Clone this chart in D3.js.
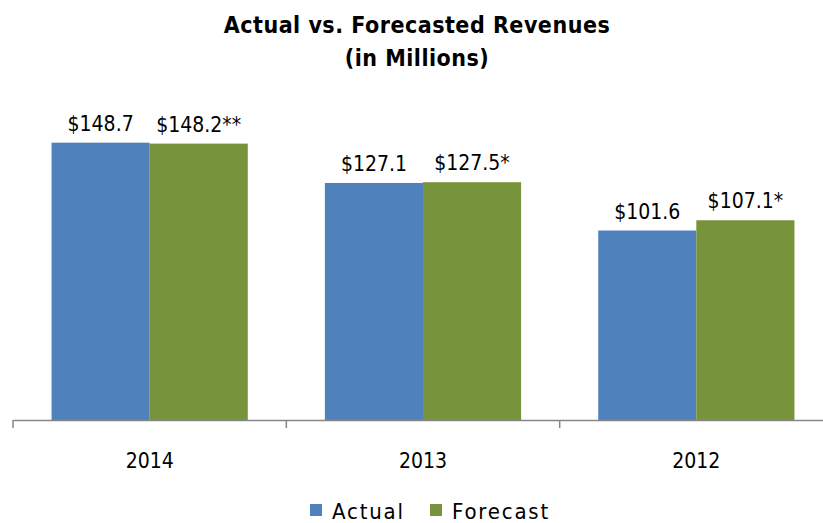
<!DOCTYPE html>
<html>
<head>
<meta charset="utf-8">
<script src="https://cdn.jsdelivr.net/npm/d3@7"></script>
<style>
    body { margin: 0; background: #fff; }
    svg text { font-family: "Liberation Sans Narrow", "DejaVu Sans Condensed", sans-serif; fill: #000; }
</style>
</head>
<body>
<div id="chart"></div>
<script>
const years = ["2014", "2013", "2012"];
const seriesNames = ["Actual", "Forecast"];
const actual = [148.7, 127.1, 101.6];
const forecast = [148.2, 127.5, 107.1];
const actualLabels = ["$148.7", "$127.1", "$101.6"];
const forecastLabels = ["$148.2**", "$127.5*", "$107.1*"];
const colors = ["#4F81BD", "#77933C"];

const width = 823, height = 523;
const baseY = 420;

const svg = d3.select("#chart")
    .append("svg")
    .attr("width", width)
    .attr("height", height);

// Scales
const x0 = d3.scaleBand().domain(years).range([13, 833]).padding(0);
const x1 = d3.scaleBand().domain(seriesNames).range([0, x0.bandwidth()]).paddingInner(0).paddingOuter(0.393);
const y = d3.scaleLinear().domain([0, 160]).range([baseY, 121.6]);

// Title
const title = svg.append("text")
    .attr("x", 417)
    .attr("text-anchor", "middle")
    .style("font-weight", "bold")
    .style("font-size", "23px")
    .style("letter-spacing", "0.5px");
title.append("tspan").attr("x", 417).attr("y", 33).text("Actual vs. Forecasted Revenues");
title.append("tspan").attr("x", 417).attr("y", 66).text("(in Millions)");

// Bars
const series = [actual, forecast];
const labelSets = [actualLabels, forecastLabels];
seriesNames.forEach((s, i) => {
    const g = svg.append("g").attr("class", "series-" + s);
    g.selectAll("rect")
        .data(years)
        .enter()
        .append("rect")
        .attr("x", (d) => x0(d) + x1(s))
        .attr("y", (d, j) => y(series[i][j]))
        .attr("width", x1.bandwidth())
        .attr("height", (d, j) => baseY - y(series[i][j]))
        .attr("fill", colors[i]);

    g.selectAll("text")
        .data(years)
        .enter()
        .append("text")
        .attr("x", (d) => x0(d) + x1(s) + x1.bandwidth() / 2)
        .attr("y", (d, j) => y(series[i][j]) - 12)
        .attr("text-anchor", "middle")
        .style("font-size", "21px")
        .text((d, j) => labelSets[i][j]);
});

// X axis
const xAxis = d3.axisBottom(x0).tickSize(0).tickSizeOuter(0);
const axisG = svg.append("g")
    .attr("transform", "translate(0," + baseY + ")")
    .call(xAxis);
axisG.select(".domain").attr("stroke", "#868686").attr("stroke-width", 1.5);
axisG.selectAll(".tick text")
    .attr("dy", 0)
    .attr("y", 48)
    .style("font-size", "21px")
    .style("font-family", "'Liberation Sans Narrow', 'DejaVu Sans Condensed', sans-serif");

// Category boundary ticks
const bounds = years.map((d) => x0(d)).concat([x0("2012") + x0.bandwidth()]);
axisG.selectAll(".bound")
    .data(bounds)
    .enter()
    .append("line")
    .attr("class", "bound")
    .attr("x1", (d) => d)
    .attr("x2", (d) => d)
    .attr("y1", 0)
    .attr("y2", 8)
    .attr("stroke", "#868686")
    .attr("stroke-width", 1.5);

// Legend
const legendItems = [
    { name: "Actual", x: 310, color: colors[0] },
    { name: "Forecast", x: 430, color: colors[1] }
];
const legend = svg.append("g").attr("class", "legend");
legendItems.forEach((d) => {
    legend.append("rect")
        .attr("x", d.x)
        .attr("y", 504)
        .attr("width", 12)
        .attr("height", 12)
        .attr("fill", d.color);
    legend.append("text")
        .attr("x", d.x + 22)
        .attr("y", 519)
        .style("font-size", "22px")
        .style("letter-spacing", "1.8px")
        .text(d.name);
});
</script>
</body>
</html>
